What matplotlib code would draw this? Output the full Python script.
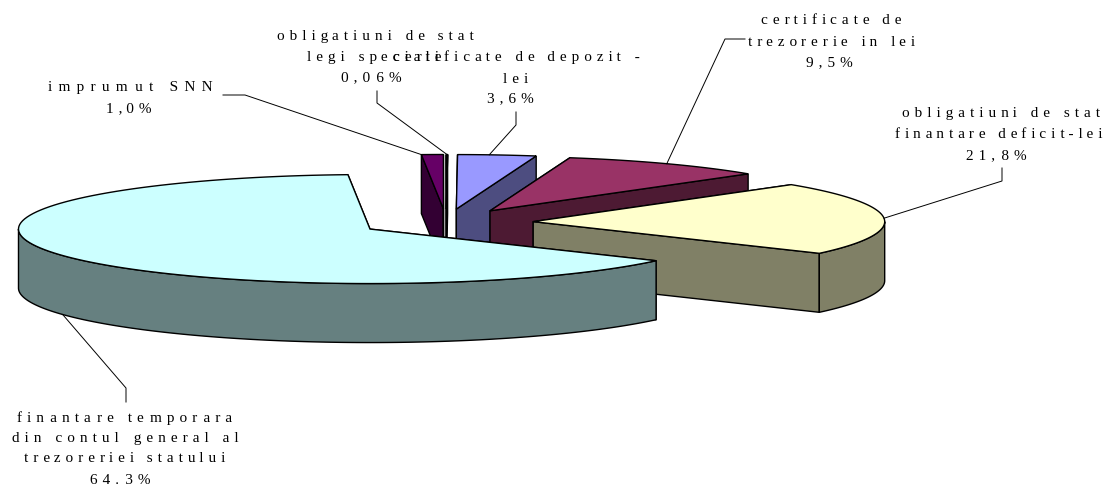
import numpy as np
import matplotlib
matplotlib.use("Agg")
import matplotlib.pyplot as plt
from matplotlib.patches import Polygon

# ---- data
slice_names = ["imprumut SNN", "obligatiuni de stat legi speciale", "certificate de depozit - lei",
               "certificate de trezorerie in lei", "obligatiuni de stat finantare deficit-lei",
               "finantare temporara din contul general al trezoreriei statului"]
slice_values = [1.0, 0.06, 3.6, 9.5, 21.8, 64.3]
top_colors = ["#660066", "#FFFFFF", "#9999FF", "#993366", "#FFFFCC", "#CCFFFF"]
side_colors = ["#330033", "#808080", "#4D4D80", "#4D1A33", "#808066", "#668080"]
label_lines = [
    ["imprumut SNN", "1,0%"],
    ["obligatiuni de stat", "legi speciale", "0,06%"],
    ["certificate de depozit -", "lei", "3,6%"],
    ["certificate de", "trezorerie in lei", "9,5%"],
    ["obligatiuni de stat", "finantare deficit-lei", "21,8%"],
    ["finantare temporara", "din contul general al", "trezoreriei statului", "64.3%"],
]

# ---- layout (pixels)
W, H = 1108, 485
CX, CY = 446.2, 223.5
RX, RY = 351.5, 54.5
DEPTH = 59.0
EXPLODE = 0.248
START = 356.4
# x-range of each text line in the picture and the y of its middle
label_extents = [
    [(48, 213), (106, 152)],
    [(277, 474), (307, 441), (341, 402)],
    [(393, 640), (503, 528), (487, 534)],
    [(761, 902), (748, 915), (806, 853)],
    [(902, 1100), (895, 1102), (966, 1027)],
    [(17, 232), (12, 239), (24, 226), (90, 151)],
]
label_y = [[87, 108], [36, 57, 77], [57, 79, 98], [20, 42, 62], [113, 134, 155], [418, 438, 458, 480]]
# leader: text-side point, elbow, fraction along the rim
leaders = [((223, 96), (245, 96), 0.0), ((377, 92), (377, 104), 0.5), ((516, 113), (516, 126), 0.4),
           ((745, 40), (725, 40), 0.5), ((1002, 169), (1002, 182), 0.5), ((126, 403), (126, 389), 0.5)]
HAIR = "\u200a"
FONT = ["Liberation Serif", "DejaVu Serif"]
FS = 11

fig = plt.figure(figsize=(W / 100, H / 100), dpi=100, facecolor="white")
ax = fig.add_axes([0, 0, 1, 1])
ax.set_xlim(0, W)
ax.set_ylim(H, 0)
ax.axis("off")

vals = np.array(slice_values)
spans = vals / vals.sum() * 360.0
starts = START + np.concatenate([[0], np.cumsum(spans)[:-1]])


def rim(t, cx, cy):
    r = np.radians(t)
    return np.column_stack([cx + RX * np.sin(r), cy - RY * np.cos(r)])


def extrude(p):
    return np.vstack([p, (p + [0, DEPTH])[::-1]])


anchors = []
for i, (a, s) in enumerate(zip(starts, spans)):
    b = a + s
    m = np.radians(a + s / 2)
    cx = CX + EXPLODE * RX * np.sin(m)
    cy = CY - EXPLODE * RY * np.cos(m)
    apex = np.array([[cx, cy]])
    kw = dict(edgecolor="black", linewidth=1.0, joinstyle="miter")
    top_arc = rim(np.linspace(a, b, 120), cx, cy)
    ax.add_patch(Polygon(extrude(np.vstack([top_arc[:1], apex])), facecolor=side_colors[i], zorder=i + 1, **kw))
    ax.add_patch(Polygon(extrude(np.vstack([top_arc[-1:], apex])), facecolor=side_colors[i], zorder=i + 1, **kw))
    lo, hi = a % 360, (a % 360) + s
    lo2, hi2 = max(lo, 90), min(hi, 270)
    if hi2 > lo2:
        ax.add_patch(Polygon(extrude(rim(np.linspace(lo2, hi2, 200), cx, cy)), facecolor=side_colors[i],
                             zorder=i + 1, **kw))
    ax.add_patch(Polygon(np.vstack([apex, top_arc]), facecolor=top_colors[i], zorder=i + 1, **kw))
    f = leaders[i][2]
    t = a + s * f
    pt = rim(np.array([t]), cx, cy)[0]
    if 180 < t % 360 < 270:
        pt = pt + [0, DEPTH]
    anchors.append(pt)

for (p0, p1, _), end in zip(leaders, anchors):
    ax.plot([p0[0], p1[0], end[0]], [p0[1], p1[1], end[1]], color="black", lw=0.7, zorder=10,
            solid_joinstyle="miter")

renderer = fig.canvas.get_renderer()


def width(s):
    t = ax.text(0, 0, s, family=FONT, fontsize=FS)
    w = t.get_window_extent(renderer).width
    t.remove()
    return w


def spaced(line, target):
    """Widen one line with hair spaces between its letters, as the reference tracks its text."""
    gaps = len(line) - 1
    w0 = width(line)
    hair = (width(HAIR.join(line) if gaps else line) - w0) / max(gaps, 1) or 1.0
    total = max(int(round((target - w0) / hair)), 0)
    out = line[0]
    done = 0
    for k in range(1, len(line)):
        n = int(round(total * k / gaps)) - done
        done += n
        out += HAIR * n + line[k]
    return out


for lines, exts, ys in zip(label_lines, label_extents, label_y):
    for line, (x0, x1), y in zip(lines, exts, ys):
        ax.text((x0 + x1) / 2, y + 4, spaced(line, x1 - x0), ha="center", va="baseline",
                family=FONT, fontsize=FS, color="black", zorder=11)

fig.savefig("out.png", dpi=100)
